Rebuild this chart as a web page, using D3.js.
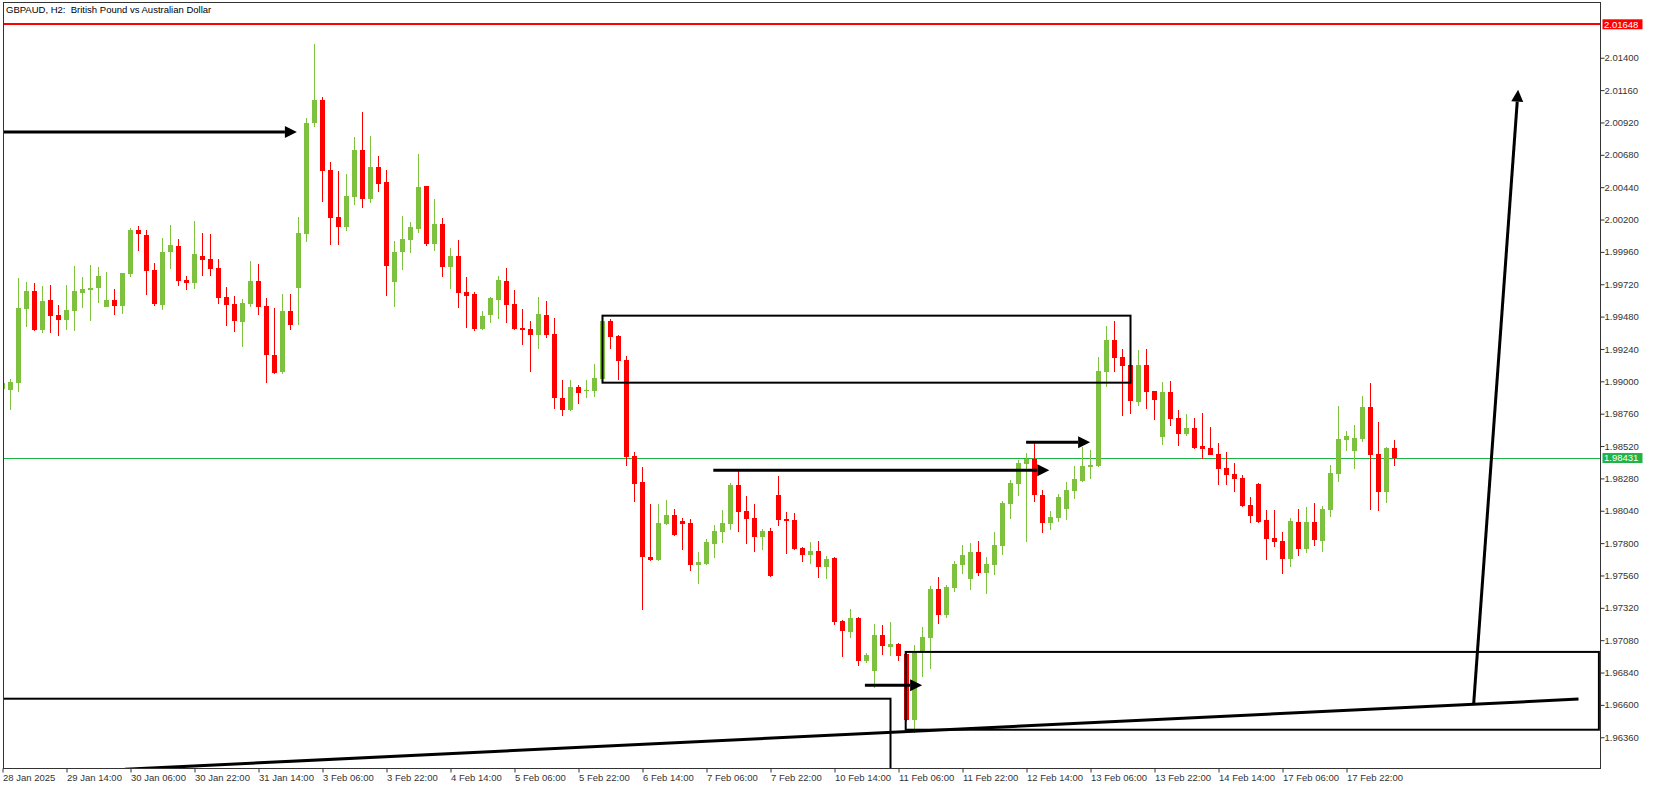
<!DOCTYPE html>
<html>
<head>
<meta charset="utf-8">
<script src="https://cdn.jsdelivr.net/npm/d3@7"></script>
<style>
body { margin: 0; background: #fff; }
svg { display: block; font-family: "Liberation Sans", Arial, sans-serif; }
</style>
</head>
<body>
<script>
// GBPAUD H2 bars, one per 2 hours (weekends skipped)
var opens = [1.98943,1.98936,1.98988,1.99537,1.99670,1.99381,1.99603,1.99492,1.99455,1.99522,
  1.99655,1.99677,1.99692,1.99551,1.99603,1.99559,1.99796,2.00122,2.00085,1.99826,
  1.99566,1.99959,2.00004,1.99752,1.99729,1.99930,1.99907,1.99841,1.99626,1.99574,
  1.99440,1.99574,1.99744,1.99559,1.99195,1.99069,1.99522,1.99692,2.00093,2.00916,
  2.01086,2.00567,2.00219,2.00145,2.00367,2.00716,2.00352,2.00590,2.00478,1.99737,
  1.99959,2.00048,2.00130,2.00449,2.00019,2.00167,1.99848,1.99930,1.99663,1.99648,
  1.99388,1.99492,1.99603,1.99744,1.99574,1.99396,1.99388,1.99344,1.99492,1.99351,
  1.98877,1.98787,1.98958,1.98928,1.98928,1.99017,1.99448,1.99336,1.99158,1.98446,
  1.98254,1.97697,1.97675,1.97942,1.98009,1.97964,1.97950,1.97638,1.97645,1.97794,
  1.97883,1.97942,1.98231,1.98038,1.97987,1.97846,1.97890,1.98157,1.97979,1.97972,
  1.97764,1.97712,1.97742,1.97623,1.97690,1.97223,1.97141,1.97245,1.96926,1.96852,
  1.97119,1.97030,1.97052,1.96978,1.96489,1.97000,1.97097,1.97460,1.97267,1.97467,
  1.97638,1.97534,1.97734,1.97579,1.97638,1.97779,1.98090,1.98239,1.98387,1.98424,
  1.98157,1.97950,1.97987,1.98053,1.98187,1.98261,1.98365,1.98372,1.99069,1.99307,
  1.99181,1.99121,1.98847,1.99121,1.98928,1.98587,1.98921,1.98728,1.98609,1.98654,
  1.98521,1.98506,1.98461,1.98357,1.98313,1.98283,1.98083,1.98239,1.97972,1.97838,
  1.97816,1.97683,1.97957,1.97757,1.97957,1.97816,1.98046,1.98313,1.98565,1.98483,
  1.98572,1.98810,1.98461,1.98179,1.98506];
var highs = [1.98995,1.99017,1.99766,1.99737,1.99729,1.99707,1.99714,1.99566,1.99714,1.99855,
  1.99774,1.99863,1.99848,1.99811,1.99685,1.99806,2.00137,2.00152,2.00122,1.99878,
  2.00063,2.00159,2.00056,1.99781,2.00189,2.00100,2.00093,1.99907,1.99700,1.99633,
  1.99611,1.99892,1.99870,1.99618,1.99544,1.99648,1.99648,2.00219,2.00953,2.01502,
  2.01109,2.00627,2.00560,2.00538,2.00812,2.00997,2.00819,2.00671,2.00567,2.00041,
  2.00226,2.00182,2.00686,2.00452,2.00352,2.00211,1.99989,2.00048,1.99774,1.99663,
  1.99522,1.99626,1.99781,1.99841,1.99677,1.99537,1.99448,1.99626,1.99596,1.99470,
  1.99010,1.99010,1.98973,1.99010,1.99129,1.99470,1.99462,1.99344,1.99188,1.98476,
  1.98365,1.98090,1.98090,1.98120,1.98053,1.97987,1.97979,1.97734,1.97831,1.97935,
  1.98046,1.98246,1.98335,1.98150,1.98090,1.97905,1.97912,1.98298,1.98031,1.98024,
  1.97772,1.97809,1.97816,1.97705,1.97697,1.97230,1.97312,1.97252,1.96985,1.97200,
  1.97193,1.97215,1.97060,1.96985,1.97045,1.97178,1.97482,1.97549,1.97490,1.97668,
  1.97786,1.97801,1.97816,1.97697,1.97883,1.98113,1.98268,1.98417,1.98469,1.98543,
  1.98194,1.98038,1.98165,1.98254,1.98372,1.98513,1.98491,1.99181,1.99410,1.99448,
  1.99240,1.99136,1.99232,1.99240,1.98930,1.98995,1.99003,1.98787,1.98758,1.98728,
  1.98765,1.98661,1.98543,1.98476,1.98394,1.98305,1.98142,1.98245,1.98046,1.98046,
  1.97883,1.97987,1.98053,1.98068,1.98098,1.98076,1.98380,1.98817,1.98632,1.98676,
  1.98891,1.98988,1.98699,1.98513,1.98565];
var lows = [1.98936,1.98787,1.98921,1.99403,1.99373,1.99359,1.99359,1.99336,1.99381,1.99373,
  1.99544,1.99448,1.99581,1.99551,1.99492,1.99499,1.99774,1.99967,1.99640,1.99559,
  1.99529,1.99833,1.99707,1.99677,1.99685,1.99781,1.99781,1.99574,1.99410,1.99366,
  1.99255,1.99551,1.99492,1.98988,1.99054,1.99054,1.99381,1.99418,2.00033,2.00886,
  2.00330,2.00011,2.00011,2.00115,2.00308,2.00286,2.00323,2.00404,1.99633,1.99551,
  1.99826,1.99952,2.00100,2.00004,1.99967,1.99774,1.99685,1.99544,1.99396,1.99373,
  1.99381,1.99433,1.99462,1.99433,1.99381,1.99270,1.99069,1.99240,1.99321,1.98795,
  1.98743,1.98780,1.98832,1.98877,1.98884,1.99010,1.99240,1.99010,1.98372,1.98105,
  1.97304,1.97668,1.97668,1.97935,1.97853,1.97749,1.97594,1.97497,1.97638,1.97690,
  1.97801,1.97898,1.97883,1.97794,1.97734,1.97749,1.97549,1.97927,1.97720,1.97749,
  1.97660,1.97645,1.97542,1.97534,1.97193,1.96956,1.97097,1.96889,1.96911,1.96726,
  1.96971,1.96963,1.96926,1.96481,1.96392,1.96807,1.96867,1.97200,1.97245,1.97438,
  1.97571,1.97453,1.97556,1.97423,1.97564,1.97712,1.97979,1.98150,1.97809,1.98105,
  1.97875,1.97898,1.97957,1.97972,1.98128,1.98254,1.98276,1.98365,1.98958,1.99069,
  1.98743,1.98758,1.98817,1.98795,1.98713,1.98528,1.98669,1.98521,1.98595,1.98500,
  1.98424,1.98450,1.98231,1.98231,1.98179,1.98068,1.97950,1.97950,1.97675,1.97772,
  1.97571,1.97623,1.97705,1.97727,1.97779,1.97734,1.97994,1.98254,1.98483,1.98350,
  1.98550,1.98046,1.98038,1.98098,1.98372];
var closes = [1.98988,1.98995,1.99544,1.99670,1.99381,1.99596,1.99485,1.99455,1.99529,1.99670,
  1.99685,1.99692,1.99781,1.99603,1.99559,1.99804,2.00122,2.00093,1.99818,1.99574,
  1.99959,2.00011,1.99744,1.99729,1.99944,1.99900,1.99833,1.99618,1.99566,1.99448,
  1.99581,1.99744,1.99551,1.99195,1.99062,1.99522,1.99418,2.00100,2.00916,2.01086,
  2.00560,2.00211,2.00145,2.00375,2.00716,2.00352,2.00590,2.00463,1.99855,1.99959,
  2.00056,2.00145,2.00441,2.00019,2.00167,1.99848,1.99930,1.99655,1.99633,1.99388,
  1.99484,1.99618,1.99752,1.99566,1.99388,1.99381,1.99344,1.99499,1.99344,1.98877,
  1.98787,1.98958,1.98914,1.98936,1.99025,1.99448,1.99329,1.99151,1.98439,1.98239,
  1.97697,1.97675,1.97950,1.98009,1.97860,1.97942,1.97638,1.97660,1.97809,1.97890,
  1.97950,1.98231,1.98031,1.97979,1.97846,1.97890,1.97556,1.97972,1.97964,1.97757,
  1.97712,1.97742,1.97623,1.97683,1.97215,1.97149,1.97245,1.96926,1.96971,1.97119,
  1.97037,1.97052,1.96963,1.96489,1.96985,1.97104,1.97460,1.97267,1.97475,1.97645,
  1.97712,1.97734,1.97579,1.97645,1.97786,1.98098,1.98246,1.98394,1.98424,1.98157,
  1.97950,1.97994,1.98142,1.98194,1.98276,1.98372,1.98380,1.99077,1.99307,1.99173,
  1.99114,1.98854,1.99121,1.98921,1.98862,1.98921,1.98721,1.98609,1.98654,1.98506,
  1.98498,1.98454,1.98350,1.98305,1.98276,1.98076,1.98001,1.97957,1.97831,1.97809,
  1.97683,1.97964,1.97757,1.97957,1.97823,1.98053,1.98320,1.98572,1.98595,1.98580,
  1.98810,1.98454,1.98179,1.98506,1.98431];

// time axis labels, one every 8 bars
var timeLabels = ["28 Jan 2025","29 Jan 14:00","30 Jan 06:00","30 Jan 22:00","31 Jan 14:00",
  "3 Feb 06:00","3 Feb 22:00","4 Feb 14:00","5 Feb 06:00","5 Feb 22:00","6 Feb 14:00",
  "7 Feb 06:00","7 Feb 22:00","10 Feb 14:00","11 Feb 06:00","11 Feb 22:00","12 Feb 14:00",
  "13 Feb 06:00","13 Feb 22:00","14 Feb 14:00","17 Feb 06:00","17 Feb 22:00"];
var priceTicks = [1.96360,1.96600,1.96840,1.97080,1.97320,1.97560,1.97800,1.98040,1.98280,
  1.98520,1.98760,1.99000,1.99240,1.99480,1.99720,1.99960,2.00200,2.00440,2.00680,
  2.00920,2.01160,2.01400];

// drawn objects (bar index, price)
var levels = [{price: 2.01648, color: "#ff0000", w: 2}, {price: 1.98431, color: "#1eb446", w: 1}];
var boxes = [
  {i0: 75, i1: 141, p0: 1.99487, p1: 1.98990},
  {i0: -10, i1: 111, p0: 1.96646, p1: 1.96000},
  {i0: 112.9, i1: 199.55, p0: 1.96993, p1: 1.96416}
];
var arrows = [
  {i0: -10, p0: 2.00849, i1: 36.8, p1: 2.00849},
  {i0: 88.85, p0: 1.98340, i1: 130.85, p1: 1.98340},
  {i0: 127.95, p0: 1.98548, i1: 135.95, p1: 1.98548},
  {i0: 107.8, p0: 1.96746, i1: 114.95, p1: 1.96746},
  {i0: 183.9, p0: 1.96612, i1: 189.45, p1: 2.01163}
];
var trendLines = [{i0: 15.3, p0: 1.96122, i1: 197.0, p1: 1.96643}];

drawChart();

function drawChart(){

    var width = 1653, height = 790;
    var pl = 3, pr = 1600, pt = 2, pb = 768; // plot frame

    var x = d3.scaleLinear().domain([0, 174]).range([2.5, 2.5 + 8 * 174]);
    var y = d3.scaleLinear().domain([1.96132, 2.01806]).range([768, 3]);

    var svg = d3.select("body").append("svg")
        .attr("width", width)
        .attr("height", height);

    svg.append("defs").append("clipPath").attr("id", "plotclip")
        .append("rect").attr("x", pl).attr("y", pt)
        .attr("width", pr - pl).attr("height", pb - pt);

    var plot = svg.append("g").attr("clip-path", "url(#plotclip)");

    // horizontal levels
    plot.selectAll(".level").data(levels).enter().append("line")
        .attr("x1", pl).attr("x2", pr)
        .attr("y1", function(d){ return Math.round(y(d.price)) + (d.w == 1 ? 0.5 : 0); })
        .attr("y2", function(d){ return Math.round(y(d.price)) + (d.w == 1 ? 0.5 : 0); })
        .attr("stroke", function(d){ return d.color; })
        .attr("stroke-width", function(d){ return d.w; });

    // candles
    var bars = d3.range(opens.length);
    var upCol = "#7dc13e", downCol = "#ff0000";
    function col(i){ return closes[i] >= opens[i] ? upCol : downCol; }

    plot.selectAll(".wick").data(bars).enter().append("rect")
        .attr("x", function(i){ return x(i) - 0.5; })
        .attr("y", function(i){ return y(highs[i]); })
        .attr("width", 1)
        .attr("height", function(i){ return Math.max(1, y(lows[i]) - y(highs[i])); })
        .attr("fill", col)
        .attr("shape-rendering", "crispEdges");

    plot.selectAll(".body").data(bars).enter().append("rect")
        .attr("x", function(i){ return x(i) - 2.5; })
        .attr("y", function(i){ return y(Math.max(opens[i], closes[i])); })
        .attr("width", 5)
        .attr("height", function(i){ return Math.max(1, Math.abs(y(opens[i]) - y(closes[i]))); })
        .attr("fill", col)
        .attr("shape-rendering", "crispEdges");

    // rectangles
    plot.selectAll(".box").data(boxes).enter().append("rect")
        .attr("x", function(d){ return x(d.i0); })
        .attr("y", function(d){ return y(d.p0); })
        .attr("width", function(d){ return x(d.i1) - x(d.i0); })
        .attr("height", function(d){ return y(d.p1) - y(d.p0); })
        .attr("fill", "none")
        .attr("stroke", "#000")
        .attr("stroke-width", 2);

    // trend line
    plot.selectAll(".trend").data(trendLines).enter().append("line")
        .attr("x1", function(d){ return x(d.i0); })
        .attr("y1", function(d){ return y(d.p0); })
        .attr("x2", function(d){ return x(d.i1); })
        .attr("y2", function(d){ return y(d.p1); })
        .attr("stroke", "#000")
        .attr("stroke-width", 3);

    // arrows
    arrows.forEach(function(d){
        var x1 = x(d.i0), y1 = y(d.p0), x2 = x(d.i1), y2 = y(d.p1);
        var dx = x2 - x1, dy = y2 - y1, len = Math.sqrt(dx * dx + dy * dy);
        var ux = dx / len, uy = dy / len;
        var bx = x2 - ux * 12, by = y2 - uy * 12;
        plot.append("line")
            .attr("x1", x1).attr("y1", y1).attr("x2", bx).attr("y2", by)
            .attr("stroke", "#000").attr("stroke-width", 3);
        plot.append("path")
            .attr("d", "M" + x2 + "," + y2 +
                "L" + (bx - uy * 6) + "," + (by + ux * 6) +
                "L" + (bx + uy * 6) + "," + (by - ux * 6) + "Z")
            .attr("fill", "#000");
    });

    // frame
    svg.append("rect")
        .attr("x", pl + 0.5).attr("y", pt + 0.5)
        .attr("width", pr - pl).attr("height", pb - pt)
        .attr("fill", "none").attr("stroke", "#333");

    // price axis
    var yAxis = d3.axisRight(y).tickValues(priceTicks).tickSize(4).tickPadding(0)
        .tickFormat(d3.format(".5f"));
    svg.append("g")
        .attr("transform", "translate(" + (pr + 0.5) + ",0)")
        .call(yAxis)
        .call(function(g){ g.select(".domain").remove(); })
        .call(function(g){
            g.selectAll("line").attr("stroke", "#333");
            g.selectAll("text").attr("fill", "#333").attr("font-size", "9.5px")
                .attr("font-family", "Liberation Sans, Arial, sans-serif");
        });

    // level boxes on the price axis
    var tags = svg.selectAll(".tag").data(levels).enter().append("g");
    tags.append("rect")
        .attr("x", pr + 2.5).attr("y", function(d){ return y(d.price) - 5; })
        .attr("width", 40).attr("height", 10)
        .attr("fill", function(d){ return d.color; });
    tags.append("text")
        .attr("x", pr + 4).attr("y", function(d){ return y(d.price); })
        .attr("dy", "0.34em")
        .attr("fill", "#fff").attr("font-size", "9.5px")
        .text(function(d){ return d3.format(".5f")(d.price); });

    // time axis
    var tickIdx = timeLabels.map(function(d, k){ return k * 8; });
    var xAxis = d3.axisBottom(x).tickValues(tickIdx).tickSize(4).tickPadding(2)
        .tickFormat(function(d, k){ return timeLabels[k]; });
    svg.append("g")
        .attr("transform", "translate(0," + (pb + 0.5) + ")")
        .call(xAxis)
        .call(function(g){ g.select(".domain").remove(); })
        .call(function(g){
            g.selectAll("line").attr("stroke", "#333");
            g.selectAll("text").attr("fill", "#333").attr("font-size", "9.5px")
                .attr("font-family", "Liberation Sans, Arial, sans-serif")
                .attr("text-anchor", "start").attr("x", 0);
        });

    // title
    svg.append("text")
        .attr("x", 6).attr("y", 12.5)
        .attr("font-size", "9.5px").attr("fill", "#000")
        .style("white-space", "pre")
        .text("GBPAUD, H2:  British Pound vs Australian Dollar");
};
</script>
</body>
</html>
